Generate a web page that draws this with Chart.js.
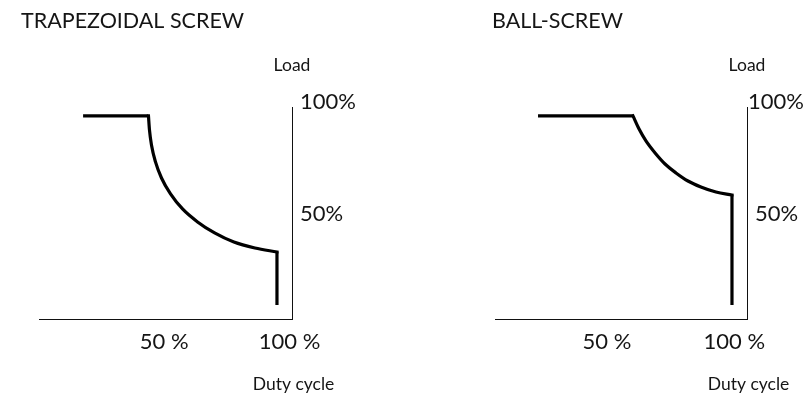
<!DOCTYPE html>
<html>
<head>
<meta charset="utf-8">
<title>Load vs duty cycle</title>
<script src="https://cdn.jsdelivr.net/npm/chart.js@4.4.1/dist/chart.umd.min.js"></script>
<style>
  html, body { margin: 0; padding: 0; background: #fff; }
  #wrap { position: relative; width: 811px; height: 396px; overflow: hidden; }
  canvas { position: absolute; top: 0; }
  #trap { left: 0; }
  #ball { left: 405px; }
</style>
</head>
<body>
<div id="wrap">
  <canvas id="trap" width="405" height="396"></canvas>
  <canvas id="ball" width="406" height="396"></canvas>
</div>
<script>
// Permissible load (%) against duty cycle (%) for two screw types.
const trapezoidalDuty = [17.6, 43.7, 44.1, 44.9, 46.5, 48.9, 52.5, 57.3, 63.3, 70.1, 77.8, 86.2, 95.0, 95.0];
const trapezoidalLoad = [95.8, 95.8, 89.2, 82.1, 74.1, 66.5, 59.0, 51.9, 45.8, 40.6, 36.3, 33.5, 31.6, 6.6];

const ballScrewDuty = [22.9, 60.2, 62.6, 65.3, 68.9, 72.8, 77.1, 81.8, 86.9, 92.8, 99.1, 99.1];
const ballScrewLoad = [95.8, 95.8, 89.6, 84.0, 78.3, 73.1, 68.9, 65.1, 62.3, 59.9, 58.5, 6.6];

// Axis ticks and captions
const dutyTicks = [50, 100];
const dutyTickLabels = ['50 %', '100 %'];
const loadTicks = [50, 100];
const loadTickLabels = ['50%', '100%'];
const dutyCaption = 'Duty cycle';
const loadCaption = 'Load';

const FONT = 'Lato, "Open Sans", sans-serif';
const INK = '#151515';

// Split a profile into its flat plateau, the smooth derating curve and the final drop.
function splitProfile(duty, load) {
  const pts = duty.map((x, i) => ({ x, y: load[i] }));
  const n = pts.length;
  return {
    plateau: pts.slice(0, 2),
    curve: pts.slice(1, n - 1),
    drop: pts.slice(n - 2)
  };
}

// Text drawn around each panel: title, axis captions and tick labels.
const panelLabels = {
  id: 'panelLabels',
  afterDraw(chart, args, opts) {
    const { ctx, chartArea } = chart;
    const xs = chart.scales.x;
    const ys = chart.scales.y;
    ctx.save();
    ctx.fillStyle = INK;
    ctx.textBaseline = 'alphabetic';

    ctx.font = '21.5px ' + FONT;
    ctx.textAlign = 'left';
    ctx.fillText(opts.title, opts.titleX, 28);

    ctx.font = '17.5px ' + FONT;
    ctx.textAlign = 'center';
    ctx.fillText(loadCaption, chartArea.right, 71);
    ctx.fillText(dutyCaption, chartArea.right + 1.5, chartArea.bottom + 71);

    ctx.font = '22px ' + FONT;
    ctx.textAlign = 'center';
    dutyTicks.forEach((v, i) => {
      ctx.fillText(dutyTickLabels[i], xs.getPixelForValue(v), chartArea.bottom + 30);
    });

    ctx.textAlign = 'left';
    loadTicks.forEach((v, i) => {
      const atTop = v === ys.max;
      const x = chartArea.right + 8 + (atTop ? opts.topTickShift : 0);
      const y = ys.getPixelForValue(v) + 8 - (atTop ? 6 : 0);
      ctx.fillText(loadTickLabels[i], x, y);
    });
    ctx.restore();
  }
};

function makePanel(canvasId, title, titleX, duty, load, xMin, xMax, pad, topTickShift) {
  const parts = splitProfile(duty, load);
  const base = {
    borderColor: '#000',
    borderWidth: 3.2,
    pointRadius: 0,
    fill: false,
    borderJoinStyle: 'miter'
  };
  return new Chart(document.getElementById(canvasId), {
    type: 'line',
    data: {
      datasets: [
        Object.assign({ label: 'plateau', data: parts.plateau, tension: 0, borderCapStyle: 'butt' }, base),
        Object.assign({ label: 'derating', data: parts.curve, tension: 0.4, cubicInterpolationMode: 'monotone', borderCapStyle: 'square' }, base),
        Object.assign({ label: 'drop', data: parts.drop, tension: 0, borderCapStyle: 'butt' }, base)
      ]
    },
    options: {
      responsive: false,
      devicePixelRatio: 1,
      animation: false,
      events: [],
      layout: { padding: pad },
      scales: {
        x: {
          type: 'linear',
          min: xMin,
          max: xMax,
          afterFit: s => { s.height = 0; },
          grid: { display: false, drawTicks: false },
          border: { display: true, color: '#111', width: 1 },
          ticks: { display: false }
        },
        y: {
          type: 'linear',
          position: 'right',
          min: 0,
          max: 100,
          afterFit: s => { s.width = 0; },
          grid: { display: false, drawTicks: false },
          border: { display: true, color: '#111', width: 1 },
          ticks: { display: false }
        }
      },
      plugins: {
        legend: { display: false },
        tooltip: { enabled: false },
        panelLabels: { title, titleX, topTickShift }
      }
    },
    plugins: [panelLabels]
  });
}

makePanel('trap', 'TRAPEZOIDAL SCREW', 21, trapezoidalDuty, trapezoidalLoad, 0, 101,
  { left: 39, right: 113, top: 107, bottom: 77 }, 0);
makePanel('ball', 'BALL-SCREW', 87, ballScrewDuty, ballScrewLoad, 6, 105,
  { left: 90, right: 64, top: 107, bottom: 77 }, -7);
</script>
</body>
</html>
